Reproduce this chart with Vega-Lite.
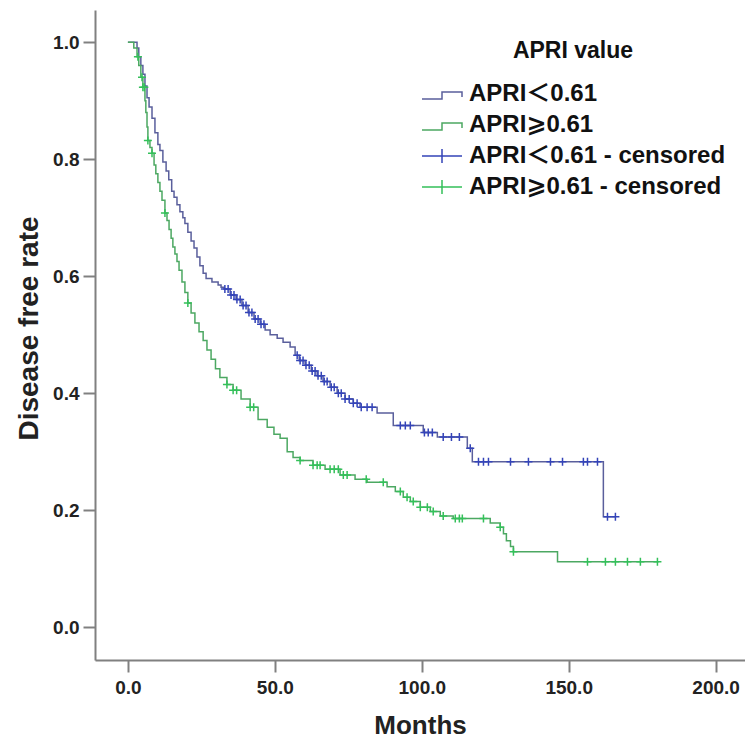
{
  "$schema": "https://vega.github.io/schema/vega-lite/v6.json",
  "width": 650,
  "height": 650,
  "autosize": "none",
  "padding": {"left": 95, "top": 10, "right": 0, "bottom": 90},
  "background": "white",
  "config": {"view": {"stroke": null}, "font": "Liberation Sans"},
  "datasets": {
    "curves": [
      {"series": "APRI＜0.61", "month": 0, "rate": 1.0},
      {"series": "APRI＜0.61", "month": 3.1, "rate": 0.99},
      {"series": "APRI＜0.61", "month": 3.7, "rate": 0.975},
      {"series": "APRI＜0.61", "month": 4.4, "rate": 0.96},
      {"series": "APRI＜0.61", "month": 5.1, "rate": 0.945},
      {"series": "APRI＜0.61", "month": 5.8, "rate": 0.925},
      {"series": "APRI＜0.61", "month": 6.5, "rate": 0.905},
      {"series": "APRI＜0.61", "month": 7.2, "rate": 0.889},
      {"series": "APRI＜0.61", "month": 8.2, "rate": 0.87},
      {"series": "APRI＜0.61", "month": 9.2, "rate": 0.845},
      {"series": "APRI＜0.61", "month": 10.2, "rate": 0.825},
      {"series": "APRI＜0.61", "month": 10.9, "rate": 0.815},
      {"series": "APRI＜0.61", "month": 11.9, "rate": 0.795},
      {"series": "APRI＜0.61", "month": 13.0, "rate": 0.78},
      {"series": "APRI＜0.61", "month": 13.9, "rate": 0.765},
      {"series": "APRI＜0.61", "month": 14.9, "rate": 0.745},
      {"series": "APRI＜0.61", "month": 15.7, "rate": 0.735},
      {"series": "APRI＜0.61", "month": 16.7, "rate": 0.722},
      {"series": "APRI＜0.61", "month": 17.7, "rate": 0.71},
      {"series": "APRI＜0.61", "month": 18.7, "rate": 0.7},
      {"series": "APRI＜0.61", "month": 19.4, "rate": 0.69},
      {"series": "APRI＜0.61", "month": 20.4, "rate": 0.675},
      {"series": "APRI＜0.61", "month": 21.5, "rate": 0.66},
      {"series": "APRI＜0.61", "month": 22.5, "rate": 0.648},
      {"series": "APRI＜0.61", "month": 23.5, "rate": 0.633},
      {"series": "APRI＜0.61", "month": 24.5, "rate": 0.618},
      {"series": "APRI＜0.61", "month": 25.6, "rate": 0.605},
      {"series": "APRI＜0.61", "month": 26.6, "rate": 0.596},
      {"series": "APRI＜0.61", "month": 28.6, "rate": 0.59},
      {"series": "APRI＜0.61", "month": 30.7, "rate": 0.585},
      {"series": "APRI＜0.61", "month": 31.7, "rate": 0.581},
      {"series": "APRI＜0.61", "month": 32.7, "rate": 0.578},
      {"series": "APRI＜0.61", "month": 34.8, "rate": 0.568},
      {"series": "APRI＜0.61", "month": 36.8, "rate": 0.56},
      {"series": "APRI＜0.61", "month": 38.8, "rate": 0.55},
      {"series": "APRI＜0.61", "month": 40.9, "rate": 0.538},
      {"series": "APRI＜0.61", "month": 42.9, "rate": 0.527},
      {"series": "APRI＜0.61", "month": 45.0, "rate": 0.518},
      {"series": "APRI＜0.61", "month": 46.7, "rate": 0.508},
      {"series": "APRI＜0.61", "month": 48.4, "rate": 0.5},
      {"series": "APRI＜0.61", "month": 50.8, "rate": 0.494},
      {"series": "APRI＜0.61", "month": 52.8, "rate": 0.487},
      {"series": "APRI＜0.61", "month": 55.2, "rate": 0.479},
      {"series": "APRI＜0.61", "month": 56.9, "rate": 0.465},
      {"series": "APRI＜0.61", "month": 58.3, "rate": 0.456},
      {"series": "APRI＜0.61", "month": 60.3, "rate": 0.448},
      {"series": "APRI＜0.61", "month": 62.4, "rate": 0.438},
      {"series": "APRI＜0.61", "month": 64.4, "rate": 0.43},
      {"series": "APRI＜0.61", "month": 66.4, "rate": 0.42},
      {"series": "APRI＜0.61", "month": 68.8, "rate": 0.41},
      {"series": "APRI＜0.61", "month": 71.2, "rate": 0.4},
      {"series": "APRI＜0.61", "month": 73.9, "rate": 0.39},
      {"series": "APRI＜0.61", "month": 76.7, "rate": 0.383},
      {"series": "APRI＜0.61", "month": 79.0, "rate": 0.376},
      {"series": "APRI＜0.61", "month": 84.8, "rate": 0.366},
      {"series": "APRI＜0.61", "month": 90.3, "rate": 0.345},
      {"series": "APRI＜0.61", "month": 100.5, "rate": 0.333},
      {"series": "APRI＜0.61", "month": 105.3, "rate": 0.325},
      {"series": "APRI＜0.61", "month": 115.5, "rate": 0.306},
      {"series": "APRI＜0.61", "month": 117.2, "rate": 0.283},
      {"series": "APRI＜0.61", "month": 161.8, "rate": 0.189},
      {"series": "APRI＜0.61", "month": 165.9, "rate": 0.189},
      {"series": "APRI⩾0.61", "month": 0, "rate": 1.0},
      {"series": "APRI⩾0.61", "month": 2.0, "rate": 0.99},
      {"series": "APRI⩾0.61", "month": 3.1, "rate": 0.975},
      {"series": "APRI⩾0.61", "month": 3.7, "rate": 0.96},
      {"series": "APRI⩾0.61", "month": 4.4, "rate": 0.94},
      {"series": "APRI⩾0.61", "month": 5.1, "rate": 0.923},
      {"series": "APRI⩾0.61", "month": 5.8, "rate": 0.9},
      {"series": "APRI⩾0.61", "month": 6.1, "rate": 0.88},
      {"series": "APRI⩾0.61", "month": 6.5, "rate": 0.855},
      {"series": "APRI⩾0.61", "month": 6.8, "rate": 0.832},
      {"series": "APRI⩾0.61", "month": 7.5, "rate": 0.82},
      {"series": "APRI⩾0.61", "month": 8.2, "rate": 0.81},
      {"series": "APRI⩾0.61", "month": 8.9, "rate": 0.79},
      {"series": "APRI⩾0.61", "month": 9.5, "rate": 0.775},
      {"series": "APRI⩾0.61", "month": 10.2, "rate": 0.76},
      {"series": "APRI⩾0.61", "month": 10.9, "rate": 0.745},
      {"series": "APRI⩾0.61", "month": 11.6, "rate": 0.73},
      {"series": "APRI⩾0.61", "month": 12.6, "rate": 0.708},
      {"series": "APRI⩾0.61", "month": 13.3, "rate": 0.695},
      {"series": "APRI⩾0.61", "month": 14.0, "rate": 0.68},
      {"series": "APRI⩾0.61", "month": 14.7, "rate": 0.665},
      {"series": "APRI⩾0.61", "month": 15.3, "rate": 0.65},
      {"series": "APRI⩾0.61", "month": 16.0, "rate": 0.638},
      {"series": "APRI⩾0.61", "month": 16.7, "rate": 0.625},
      {"series": "APRI⩾0.61", "month": 17.4, "rate": 0.61},
      {"series": "APRI⩾0.61", "month": 18.4, "rate": 0.59},
      {"series": "APRI⩾0.61", "month": 19.4, "rate": 0.572},
      {"series": "APRI⩾0.61", "month": 20.4, "rate": 0.554},
      {"series": "APRI⩾0.61", "month": 21.5, "rate": 0.537},
      {"series": "APRI⩾0.61", "month": 22.8, "rate": 0.52},
      {"series": "APRI⩾0.61", "month": 24.2, "rate": 0.505},
      {"series": "APRI⩾0.61", "month": 25.6, "rate": 0.49},
      {"series": "APRI⩾0.61", "month": 26.9, "rate": 0.474},
      {"series": "APRI⩾0.61", "month": 28.3, "rate": 0.458},
      {"series": "APRI⩾0.61", "month": 29.8, "rate": 0.442},
      {"series": "APRI⩾0.61", "month": 31.3, "rate": 0.427},
      {"series": "APRI⩾0.61", "month": 33.7, "rate": 0.415},
      {"series": "APRI⩾0.61", "month": 35.8, "rate": 0.405},
      {"series": "APRI⩾0.61", "month": 38.5, "rate": 0.39},
      {"series": "APRI⩾0.61", "month": 41.6, "rate": 0.376},
      {"series": "APRI⩾0.61", "month": 44.3, "rate": 0.355},
      {"series": "APRI⩾0.61", "month": 47.4, "rate": 0.342},
      {"series": "APRI⩾0.61", "month": 49.7, "rate": 0.33},
      {"series": "APRI⩾0.61", "month": 51.8, "rate": 0.323},
      {"series": "APRI⩾0.61", "month": 54.2, "rate": 0.3},
      {"series": "APRI⩾0.61", "month": 56.2, "rate": 0.29},
      {"series": "APRI⩾0.61", "month": 58.6, "rate": 0.285},
      {"series": "APRI⩾0.61", "month": 63.0, "rate": 0.277},
      {"series": "APRI⩾0.61", "month": 67.1, "rate": 0.27},
      {"series": "APRI⩾0.61", "month": 72.2, "rate": 0.26},
      {"series": "APRI⩾0.61", "month": 77.3, "rate": 0.253},
      {"series": "APRI⩾0.61", "month": 81.4, "rate": 0.248},
      {"series": "APRI⩾0.61", "month": 88.2, "rate": 0.24},
      {"series": "APRI⩾0.61", "month": 91.0, "rate": 0.232},
      {"series": "APRI⩾0.61", "month": 93.7, "rate": 0.222},
      {"series": "APRI⩾0.61", "month": 96.1, "rate": 0.215},
      {"series": "APRI⩾0.61", "month": 99.5, "rate": 0.205},
      {"series": "APRI⩾0.61", "month": 102.9, "rate": 0.198},
      {"series": "APRI⩾0.61", "month": 106.3, "rate": 0.19},
      {"series": "APRI⩾0.61", "month": 110.7, "rate": 0.186},
      {"series": "APRI⩾0.61", "month": 123.3, "rate": 0.178},
      {"series": "APRI⩾0.61", "month": 126.7, "rate": 0.171},
      {"series": "APRI⩾0.61", "month": 127.8, "rate": 0.16},
      {"series": "APRI⩾0.61", "month": 128.8, "rate": 0.148},
      {"series": "APRI⩾0.61", "month": 130.2, "rate": 0.138},
      {"series": "APRI⩾0.61", "month": 131.2, "rate": 0.129},
      {"series": "APRI⩾0.61", "month": 146.2, "rate": 0.112},
      {"series": "APRI⩾0.61", "month": 180.6, "rate": 0.112}
    ],
    "censored": [
      {"series": "APRI＜0.61 - censored", "month": 33.0, "rate": 0.578},
      {"series": "APRI＜0.61 - censored", "month": 34.1, "rate": 0.578},
      {"series": "APRI＜0.61 - censored", "month": 35.1, "rate": 0.568},
      {"series": "APRI＜0.61 - censored", "month": 36.1, "rate": 0.568},
      {"series": "APRI＜0.61 - censored", "month": 37.1, "rate": 0.56},
      {"series": "APRI＜0.61 - censored", "month": 38.2, "rate": 0.56},
      {"series": "APRI＜0.61 - censored", "month": 39.2, "rate": 0.55},
      {"series": "APRI＜0.61 - censored", "month": 40.2, "rate": 0.55},
      {"series": "APRI＜0.61 - censored", "month": 41.2, "rate": 0.538},
      {"series": "APRI＜0.61 - censored", "month": 42.2, "rate": 0.538},
      {"series": "APRI＜0.61 - censored", "month": 43.3, "rate": 0.527},
      {"series": "APRI＜0.61 - censored", "month": 44.3, "rate": 0.527},
      {"series": "APRI＜0.61 - censored", "month": 45.3, "rate": 0.518},
      {"series": "APRI＜0.61 - censored", "month": 46.3, "rate": 0.518},
      {"series": "APRI＜0.61 - censored", "month": 57.6, "rate": 0.465},
      {"series": "APRI＜0.61 - censored", "month": 58.6, "rate": 0.456},
      {"series": "APRI＜0.61 - censored", "month": 59.6, "rate": 0.456},
      {"series": "APRI＜0.61 - censored", "month": 60.6, "rate": 0.448},
      {"series": "APRI＜0.61 - censored", "month": 61.7, "rate": 0.448},
      {"series": "APRI＜0.61 - censored", "month": 62.7, "rate": 0.438},
      {"series": "APRI＜0.61 - censored", "month": 63.7, "rate": 0.438},
      {"series": "APRI＜0.61 - censored", "month": 64.7, "rate": 0.43},
      {"series": "APRI＜0.61 - censored", "month": 65.8, "rate": 0.43},
      {"series": "APRI＜0.61 - censored", "month": 66.8, "rate": 0.42},
      {"series": "APRI＜0.61 - censored", "month": 67.8, "rate": 0.42},
      {"series": "APRI＜0.61 - censored", "month": 69.2, "rate": 0.41},
      {"series": "APRI＜0.61 - censored", "month": 70.2, "rate": 0.41},
      {"series": "APRI＜0.61 - censored", "month": 71.6, "rate": 0.4},
      {"series": "APRI＜0.61 - censored", "month": 72.6, "rate": 0.4},
      {"series": "APRI＜0.61 - censored", "month": 73.9, "rate": 0.39},
      {"series": "APRI＜0.61 - censored", "month": 75.3, "rate": 0.39},
      {"series": "APRI＜0.61 - censored", "month": 76.7, "rate": 0.383},
      {"series": "APRI＜0.61 - censored", "month": 78.0, "rate": 0.383},
      {"series": "APRI＜0.61 - censored", "month": 79.4, "rate": 0.376},
      {"series": "APRI＜0.61 - censored", "month": 81.4, "rate": 0.376},
      {"series": "APRI＜0.61 - censored", "month": 83.1, "rate": 0.376},
      {"series": "APRI＜0.61 - censored", "month": 92.7, "rate": 0.345},
      {"series": "APRI＜0.61 - censored", "month": 94.4, "rate": 0.345},
      {"series": "APRI＜0.61 - censored", "month": 96.1, "rate": 0.345},
      {"series": "APRI＜0.61 - censored", "month": 100.9, "rate": 0.333},
      {"series": "APRI＜0.61 - censored", "month": 102.2, "rate": 0.333},
      {"series": "APRI＜0.61 - censored", "month": 103.6, "rate": 0.333},
      {"series": "APRI＜0.61 - censored", "month": 107.3, "rate": 0.325},
      {"series": "APRI＜0.61 - censored", "month": 110.1, "rate": 0.325},
      {"series": "APRI＜0.61 - censored", "month": 112.8, "rate": 0.325},
      {"series": "APRI＜0.61 - censored", "month": 116.5, "rate": 0.306},
      {"series": "APRI＜0.61 - censored", "month": 119.3, "rate": 0.283},
      {"series": "APRI＜0.61 - censored", "month": 121.0, "rate": 0.283},
      {"series": "APRI＜0.61 - censored", "month": 122.7, "rate": 0.283},
      {"series": "APRI＜0.61 - censored", "month": 130.2, "rate": 0.283},
      {"series": "APRI＜0.61 - censored", "month": 136.3, "rate": 0.283},
      {"series": "APRI＜0.61 - censored", "month": 143.8, "rate": 0.283},
      {"series": "APRI＜0.61 - censored", "month": 147.9, "rate": 0.283},
      {"series": "APRI＜0.61 - censored", "month": 155.0, "rate": 0.283},
      {"series": "APRI＜0.61 - censored", "month": 156.4, "rate": 0.283},
      {"series": "APRI＜0.61 - censored", "month": 159.8, "rate": 0.283},
      {"series": "APRI＜0.61 - censored", "month": 163.2, "rate": 0.189},
      {"series": "APRI＜0.61 - censored", "month": 165.9, "rate": 0.189},
      {"series": "APRI⩾0.61 - censored", "month": 3.4, "rate": 0.975},
      {"series": "APRI⩾0.61 - censored", "month": 4.8, "rate": 0.94},
      {"series": "APRI⩾0.61 - censored", "month": 5.1, "rate": 0.923},
      {"series": "APRI⩾0.61 - censored", "month": 5.6, "rate": 0.923},
      {"series": "APRI⩾0.61 - censored", "month": 6.8, "rate": 0.832},
      {"series": "APRI⩾0.61 - censored", "month": 8.2, "rate": 0.81},
      {"series": "APRI⩾0.61 - censored", "month": 12.6, "rate": 0.708},
      {"series": "APRI⩾0.61 - censored", "month": 20.4, "rate": 0.554},
      {"series": "APRI⩾0.61 - censored", "month": 33.7, "rate": 0.415},
      {"series": "APRI⩾0.61 - censored", "month": 35.8, "rate": 0.405},
      {"series": "APRI⩾0.61 - censored", "month": 37.0, "rate": 0.405},
      {"series": "APRI⩾0.61 - censored", "month": 41.6, "rate": 0.376},
      {"series": "APRI⩾0.61 - censored", "month": 42.8, "rate": 0.376},
      {"series": "APRI⩾0.61 - censored", "month": 58.6, "rate": 0.285},
      {"series": "APRI⩾0.61 - censored", "month": 63.0, "rate": 0.277},
      {"series": "APRI⩾0.61 - censored", "month": 64.4, "rate": 0.277},
      {"series": "APRI⩾0.61 - censored", "month": 65.4, "rate": 0.277},
      {"series": "APRI⩾0.61 - censored", "month": 68.8, "rate": 0.27},
      {"series": "APRI⩾0.61 - censored", "month": 70.2, "rate": 0.27},
      {"series": "APRI⩾0.61 - censored", "month": 71.6, "rate": 0.27},
      {"series": "APRI⩾0.61 - censored", "month": 73.3, "rate": 0.26},
      {"series": "APRI⩾0.61 - censored", "month": 74.6, "rate": 0.26},
      {"series": "APRI⩾0.61 - censored", "month": 81.1, "rate": 0.253},
      {"series": "APRI⩾0.61 - censored", "month": 86.9, "rate": 0.248},
      {"series": "APRI⩾0.61 - censored", "month": 92.7, "rate": 0.232},
      {"series": "APRI⩾0.61 - censored", "month": 95.0, "rate": 0.222},
      {"series": "APRI⩾0.61 - censored", "month": 97.1, "rate": 0.215},
      {"series": "APRI⩾0.61 - censored", "month": 99.5, "rate": 0.205},
      {"series": "APRI⩾0.61 - censored", "month": 101.9, "rate": 0.205},
      {"series": "APRI⩾0.61 - censored", "month": 103.9, "rate": 0.198},
      {"series": "APRI⩾0.61 - censored", "month": 107.3, "rate": 0.19},
      {"series": "APRI⩾0.61 - censored", "month": 111.4, "rate": 0.186},
      {"series": "APRI⩾0.61 - censored", "month": 112.8, "rate": 0.186},
      {"series": "APRI⩾0.61 - censored", "month": 113.8, "rate": 0.186},
      {"series": "APRI⩾0.61 - censored", "month": 121.0, "rate": 0.186},
      {"series": "APRI⩾0.61 - censored", "month": 126.7, "rate": 0.171},
      {"series": "APRI⩾0.61 - censored", "month": 131.2, "rate": 0.129},
      {"series": "APRI⩾0.61 - censored", "month": 156.4, "rate": 0.112},
      {"series": "APRI⩾0.61 - censored", "month": 162.5, "rate": 0.112},
      {"series": "APRI⩾0.61 - censored", "month": 165.9, "rate": 0.112},
      {"series": "APRI⩾0.61 - censored", "month": 170.0, "rate": 0.112},
      {"series": "APRI⩾0.61 - censored", "month": 174.4, "rate": 0.112},
      {"series": "APRI⩾0.61 - censored", "month": 180.2, "rate": 0.112}
    ]
  },
  "layer": [
    {
      "data": {"name": "curves"},
      "mark": {"type": "line", "interpolate": "step-after", "strokeWidth": 1.5},
      "encoding": {
        "x": {
          "field": "month", "type": "quantitative",
          "scale": {"domain": [-11.2, 210], "nice": false, "zero": false},
          "axis": {
            "title": "Months", "values": [0, 50, 100, 150, 200], "format": ".1f",
            "grid": false, "labelFlush": false,
            "labelFont": "Liberation Sans", "labelFontWeight": "bold", "labelFontSize": 19, "labelColor": "#222",
            "tickSize": 12, "tickColor": "#808080", "tickWidth": 2,
            "domainColor": "#808080", "domainWidth": 2, "labelPadding": 6,
            "titleFont": "Liberation Sans", "titleFontSize": 26, "titleFontWeight": "bold", "titleColor": "#222", "titlePadding": 15
          }
        },
        "y": {
          "field": "rate", "type": "quantitative",
          "scale": {"domain": [-0.056, 1.055], "nice": false, "zero": false},
          "axis": {
            "title": "Disease free rate", "values": [0, 0.2, 0.4, 0.6, 0.8, 1.0], "format": ".1f",
            "grid": false, "labelFlush": false,
            "labelFont": "Liberation Sans", "labelFontWeight": "bold", "labelFontSize": 19, "labelColor": "#222",
            "tickSize": 12, "tickColor": "#808080", "tickWidth": 2,
            "domainColor": "#808080", "domainWidth": 2, "labelPadding": 4,
            "titleFont": "Liberation Sans", "titleFontSize": 28, "titleFontWeight": "bold", "titleColor": "#222", "titlePadding": 9,
            "titleY": 318
          }
        },
        "color": {
          "field": "series", "type": "nominal",
          "scale": {
            "domain": ["APRI＜0.61", "APRI⩾0.61", "APRI＜0.61 - censored", "APRI⩾0.61 - censored"],
            "range": ["#5a5f9c", "#4ca862", "#3444b8", "#34c05a"]
          },
          "legend": {
            "title": "APRI value", "orient": "none", "legendX": 345, "legendY": 30,
            "titleFont": "Liberation Sans", "titleFontSize": 23, "titleFontWeight": "bold", "titleColor": "#111",
            "titleAnchor": "middle", "titlePadding": 19,
            "labelFont": "Liberation Sans, Noto Sans CJK SC, DejaVu Sans", "labelFontSize": 24, "labelFontWeight": "bold", "labelColor": "#111",
            "labelOffset": 5, "labelLimit": 400, "rowPadding": 7, "padding": 0,
            "symbolType": "circle", "symbolSize": 400, "symbolStrokeWidth": 1.5,
            "encode": {
              "title": {"update": {"dx": {"value": -10}}},
              "symbols": {
                "update": {
                  "shape": {"signal": "indexof(datum.value, 'censored') >= 0 ? 'M-3,0H1M-1,-0.7V0.7' : 'M-3,0.5H-1V-0.2H1V0.3'"},
                  "fill": {"value": "transparent"},
                  "opacity": {"value": 1},
                  "strokeWidth": {"value": 1.5}
                }
              }
            }
          }
        }
      }
    },
    {
      "data": {"name": "censored"},
      "mark": {"type": "point", "shape": "M-1,0H1M0,-1V1", "filled": false, "size": 64, "strokeWidth": 1.5, "opacity": 1},
      "encoding": {
        "x": {"field": "month", "type": "quantitative"},
        "y": {"field": "rate", "type": "quantitative"},
        "color": {"field": "series", "type": "nominal", "legend": null}
      }
    }
  ]
}
